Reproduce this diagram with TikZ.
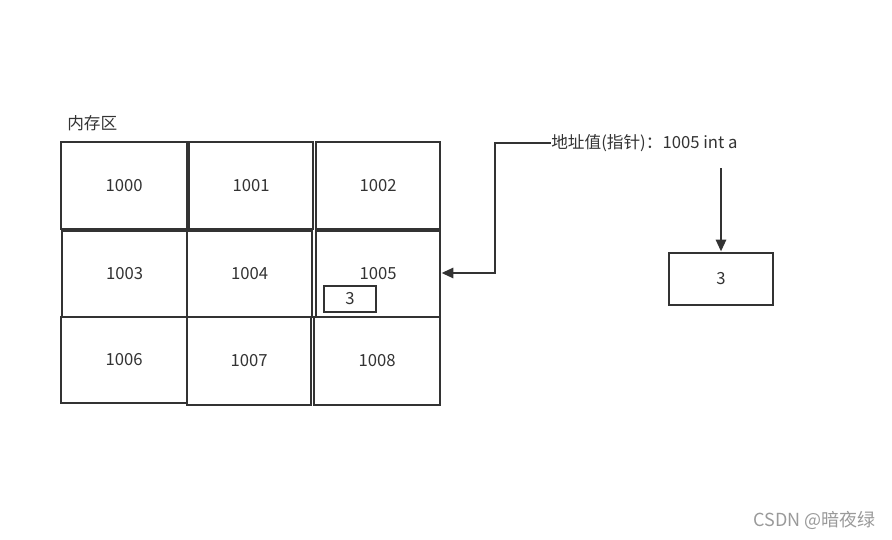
\documentclass[tikz,border=0pt]{standalone}
\usepackage{fontspec}
\setmainfont{Noto Sans CJK SC}
\usetikzlibrary{arrows.meta}
\definecolor{ink}{HTML}{333333}
\definecolor{wm}{HTML}{9A9A9A}
\tikzset{
  cell/.style={draw=ink, line width=2.1pt, rectangle, inner sep=0pt, text=ink, font=\fontsize{12.5}{14}\selectfont},
  conn/.style={draw=ink, line width=2.1pt, -{Triangle[length=9pt,width=7.5pt]}},
  txt/.style={text=ink, inner sep=0pt, font=\fontsize{12.5}{14}\selectfont}
}
\newcommand\mycell[6]{\node[cell, minimum width=#4*0.75pt, minimum height=#5*0.75pt] (#1) at (#2,#3) {#6};}
\begin{document}
\begin{tikzpicture}[x=0.75pt,y=-0.75pt]
\useasboundingbox (0,0) rectangle (892,539);
\mycell{c1000}{124}{185.5}{126}{87}{1000}
\mycell{c1001}{251}{185.5}{124}{87}{1001}
\mycell{c1002}{378}{185.5}{124}{87}{1002}
\mycell{c1003}{124.5}{274}{125}{86}{1003}
\mycell{c1004}{249.5}{274}{125}{86}{1004}
\mycell{c1005}{378}{274}{124}{86}{1005}
\mycell{c1006}{124}{360}{126}{86}{1006}
\mycell{c1007}{249}{361}{124}{88}{1007}
\mycell{c1008}{377}{361}{126}{88}{1008}
\node[cell, minimum width=52*0.75pt, minimum height=26*0.75pt] (small) at (350,299) {3};
\node[cell, minimum width=104*0.75pt, minimum height=52*0.75pt] (val) at (721,279) {3};
\node[txt, anchor=west] (mem) at (67,123) {内存区};
\node[txt, anchor=west] (lab) at (551,143) {地址值(指针)：1005 int a};
\coordinate (k1) at (495,143);
\coordinate (k2) at (495,273);
\coordinate (v1) at (721,168);
\draw[conn] (lab.west) -- (k1) -- (k2) -- (k2 -| c1005.east);
\draw[conn] (v1) -- (val.north);
\node[anchor=east, inner sep=0pt, text=wm, font=\fontsize{13.5}{15}\selectfont] (mark) at (876,520) {CSDN @暗夜绿};
\end{tikzpicture}
\end{document}
